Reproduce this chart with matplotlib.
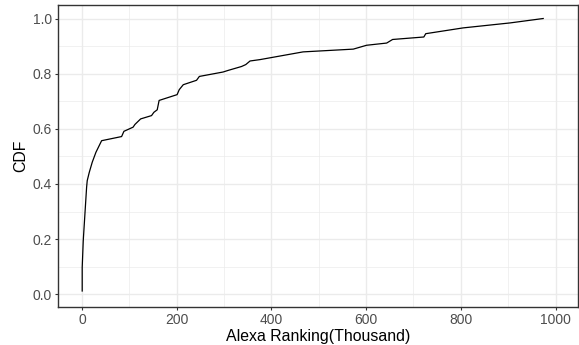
import matplotlib
matplotlib.use("Agg")
import matplotlib.pyplot as plt
import numpy as np

# CDF of Alexa ranking (thousand)
rank_k = [0.6, 0.6, 2.8, 6.3, 9.9, 11.2, 15.5, 21.8, 29.6, 41.6, 83.8, 88.7,
          108, 112, 124, 147, 152, 159, 163, 201, 205.5, 214, 242, 248, 298,
          309, 337, 346, 355, 376, 467, 573, 601, 643.5, 656, 722, 726, 805,
          904, 974]
cdf = [0.012, 0.097, 0.194, 0.29, 0.388, 0.412, 0.442, 0.479, 0.515, 0.557,
       0.572, 0.591, 0.606, 0.616, 0.636, 0.648, 0.66, 0.669, 0.703, 0.724,
       0.742, 0.76, 0.776, 0.79, 0.806, 0.812, 0.826, 0.833, 0.846, 0.851,
       0.879, 0.889, 0.903, 0.911, 0.924, 0.933, 0.945, 0.966, 0.984, 1.0]

plt.rcParams['font.family'] = ['Liberation Sans', 'DejaVu Sans']

fig = plt.figure(figsize=(5.79, 3.45), dpi=100)
# panel placed like the ggplot original
ax = fig.add_axes([58 / 579, 1 - 307 / 345, (578 - 58) / 579, (307 - 5) / 345])

ax.plot(rank_k, cdf, color='black', linewidth=0.9)

ax.set_xlim(-50.5, 1047.5)
ax.set_ylim(-0.046, 1.049)
ax.set_xticks(np.arange(0, 1001, 200))
ax.set_xticks(np.arange(100, 1001, 200), minor=True)
ax.set_yticks(np.arange(0, 1.01, 0.2))
ax.set_yticks(np.arange(0.1, 1.0, 0.2), minor=True)
ax.set_yticklabels(['0.0', '0.2', '0.4', '0.6', '0.8', '1.0'])

# ggplot theme_bw look
ax.grid(True, which='major', color='#ebebeb', linewidth=1.0)
ax.grid(True, which='minor', color='#ebebeb', linewidth=0.5)
ax.set_axisbelow(True)
for s in ax.spines.values():
    s.set_color('#333333')
    s.set_linewidth(1.0)
ax.tick_params(which='major', length=2.5, width=0.8, color='#333333',
               labelcolor='#4d4d4d', labelsize=10, pad=2)
ax.tick_params(which='minor', length=0)

ax.set_xlabel('Alexa Ranking(Thousand)', fontsize=11.4, color='black', labelpad=1.5)
ax.set_ylabel('CDF', fontsize=11.4, color='black', labelpad=3)

fig.savefig('out.png', dpi=100)
